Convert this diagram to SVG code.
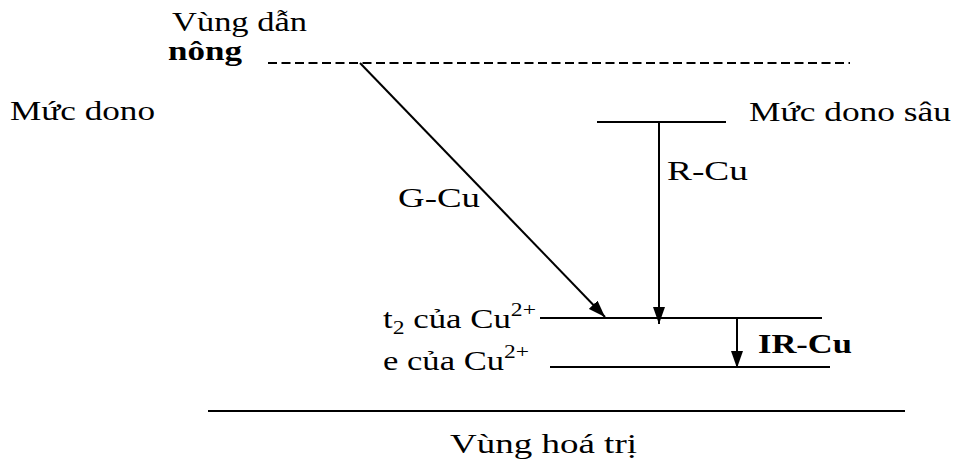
<svg xmlns="http://www.w3.org/2000/svg" width="958" height="466" viewBox="0 0 958 466" font-family="'Liberation Serif', 'DejaVu Serif', serif">
<defs>
<style>
text{font-family:'Liberation Serif','DejaVu Serif',serif;fill:#000;font-size:28px}
.b{font-weight:bold}
.ln{stroke:#000;stroke-width:2;fill:none}
</style>
<marker id="ah" markerWidth="17" markerHeight="12" refX="17" refY="6" orient="auto" markerUnits="userSpaceOnUse" viewBox="0 0 17 12">
<path d="M0,0 L17,6 L0,12 Z" fill="#000"/>
</marker>
</defs>
<rect width="958" height="466" fill="#fff"/>
<g id="conduction">
<text x="172" y="31" font-size="26" textLength="135" lengthAdjust="spacingAndGlyphs">Vùng dẫn</text>
<text x="168" y="60" class="b" font-size="26" textLength="74" lengthAdjust="spacingAndGlyphs">nông</text>
<line x1="268" y1="63" x2="850" y2="63" class="ln" stroke-dasharray="9,4.5"/>
</g>
<g id="shallow-donor"><text x="10" y="120" font-size="30" textLength="145" lengthAdjust="spacingAndGlyphs">Mức dono</text></g>
<g id="deep-donor">
<line x1="597" y1="122" x2="726" y2="122" class="ln"/>
<text x="749" y="121" font-size="31" textLength="202" lengthAdjust="spacingAndGlyphs">Mức dono sâu</text>
</g>
<g id="t2-level">
<text x="383" y="328" font-size="29" textLength="153" lengthAdjust="spacingAndGlyphs">t<tspan font-size="19" dy="6">2</tspan><tspan dy="-6"> của Cu</tspan><tspan font-size="19" dy="-12">2+</tspan></text>
<line x1="540" y1="318" x2="822" y2="318" class="ln"/>
</g>
<g id="e-level">
<text x="383" y="370" font-size="29" textLength="146" lengthAdjust="spacingAndGlyphs">e của Cu<tspan font-size="19" dy="-12">2+</tspan></text>
<line x1="550" y1="367" x2="830" y2="367" class="ln"/>
</g>
<g id="valence">
<line x1="208" y1="411" x2="905" y2="411" class="ln"/>
<text x="450" y="453" font-size="36" textLength="187" lengthAdjust="spacingAndGlyphs">Vùng hoá trị</text>
</g>
<g id="connectors">
<line x1="360" y1="63" x2="605" y2="317" class="ln" marker-end="url(#ah)"/>
<line x1="659" y1="122" x2="659" y2="324" class="ln" marker-end="url(#ah)"/>
<line x1="737" y1="318" x2="737" y2="368" class="ln" marker-end="url(#ah)"/>
</g>
<g id="labels">
<text x="398" y="207" font-size="27" textLength="82" lengthAdjust="spacingAndGlyphs">G-Cu</text>
<text x="667" y="180" font-size="27" textLength="81" lengthAdjust="spacingAndGlyphs">R-Cu</text>
<text x="758" y="353" class="b" font-size="27" textLength="94" lengthAdjust="spacingAndGlyphs">IR-Cu</text>
</g>
</svg>
